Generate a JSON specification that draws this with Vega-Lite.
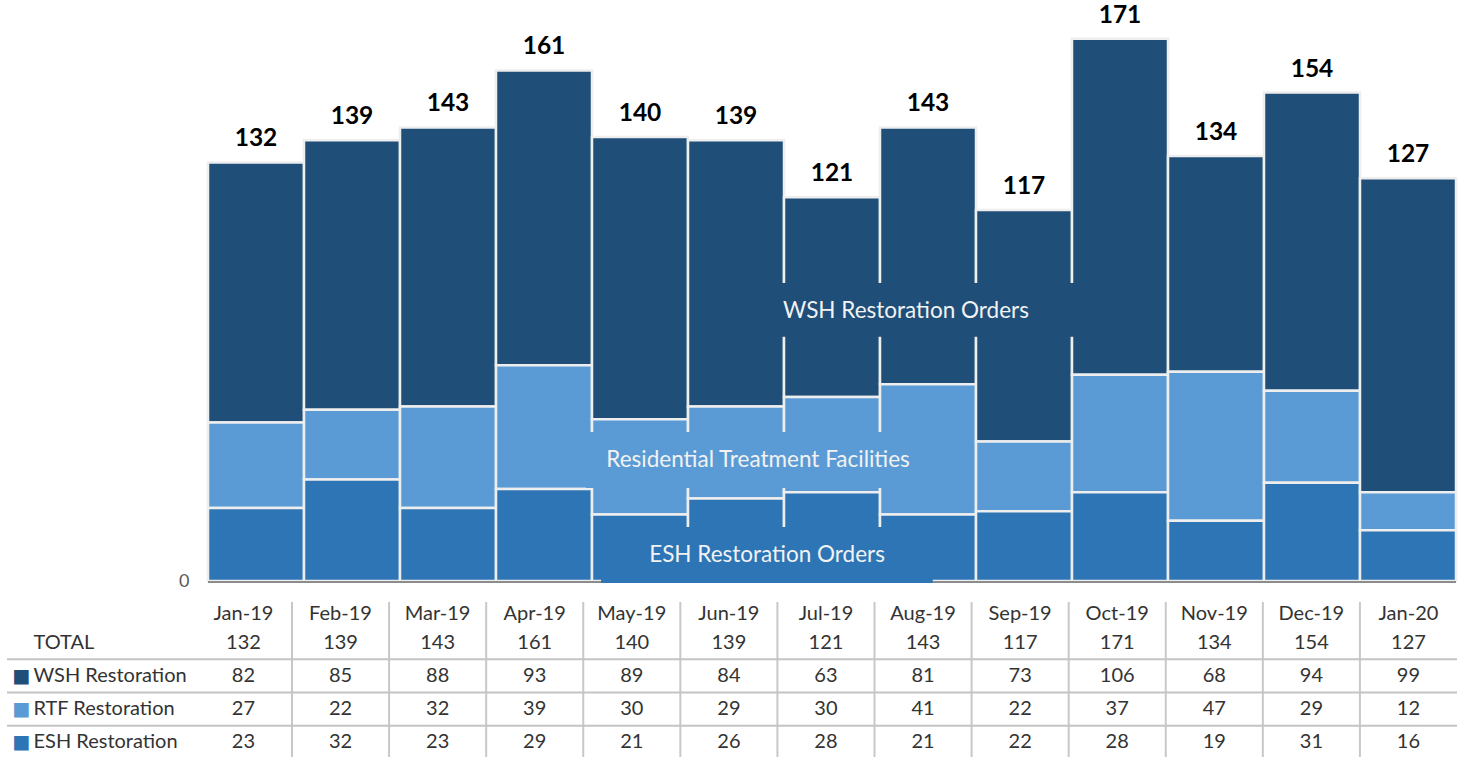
{
  "$schema": "https://vega.github.io/schema/vega-lite/v6.json",
  "padding": {"left": 6, "top": 0, "right": 0, "bottom": 0},
  "background": "white",
  "spacing": 21,
  "bounds": "flush",
  "config": {"view": {"stroke": null}, "font": "Lato"},
  "datasets": {
    "monthly": [
      {"month": "Jan-19", "TOTAL": 132, "WSH Restoration": 82, "RTF Restoration": 27, "ESH Restoration": 23},
      {"month": "Feb-19", "TOTAL": 139, "WSH Restoration": 85, "RTF Restoration": 22, "ESH Restoration": 32},
      {"month": "Mar-19", "TOTAL": 143, "WSH Restoration": 88, "RTF Restoration": 32, "ESH Restoration": 23},
      {"month": "Apr-19", "TOTAL": 161, "WSH Restoration": 93, "RTF Restoration": 39, "ESH Restoration": 29},
      {"month": "May-19", "TOTAL": 140, "WSH Restoration": 89, "RTF Restoration": 30, "ESH Restoration": 21},
      {"month": "Jun-19", "TOTAL": 139, "WSH Restoration": 84, "RTF Restoration": 29, "ESH Restoration": 26},
      {"month": "Jul-19", "TOTAL": 121, "WSH Restoration": 63, "RTF Restoration": 30, "ESH Restoration": 28},
      {"month": "Aug-19", "TOTAL": 143, "WSH Restoration": 81, "RTF Restoration": 41, "ESH Restoration": 21},
      {"month": "Sep-19", "TOTAL": 117, "WSH Restoration": 73, "RTF Restoration": 22, "ESH Restoration": 22},
      {"month": "Oct-19", "TOTAL": 171, "WSH Restoration": 106, "RTF Restoration": 37, "ESH Restoration": 28},
      {"month": "Nov-19", "TOTAL": 134, "WSH Restoration": 68, "RTF Restoration": 47, "ESH Restoration": 19},
      {"month": "Dec-19", "TOTAL": 154, "WSH Restoration": 94, "RTF Restoration": 29, "ESH Restoration": 31},
      {"month": "Jan-20", "TOTAL": 127, "WSH Restoration": 99, "RTF Restoration": 12, "ESH Restoration": 16}
    ],
    "callouts": [
      {"label": "WSH Restoration Orders", "series": "WSH Restoration", "from": "Jun-19", "to": "Oct-19", "at": "Aug-19", "low": 77, "high": 94, "mid": 85.2},
      {"label": "Residential Treatment Facilities", "series": "RTF Restoration", "from": "Apr-19", "to": "Aug-19", "at": "Jun-19", "low": 29.3, "high": 47, "mid": 38.2},
      {"label": "ESH Restoration Orders", "series": "ESH Restoration", "from": "May-19", "to": "Aug-19", "at": "Jun-19", "low": -0.6, "high": 17, "mid": 8.3}
    ]
  },
  "resolve": {"scale": {"x": "independent", "y": "independent"}},
  "vconcat": [
    {
      "width": 1449,
      "height": 581,
      "layer": [
        {
          "data": {"name": "monthly"},
          "transform": [{"fold": ["WSH Restoration", "RTF Restoration", "ESH Restoration"], "as": ["series", "value"]}],
          "mark": {"type": "bar", "stroke": "#eeeeee", "strokeWidth": 2.5},
          "encoding": {
            "x": {"field": "month", "type": "ordinal", "axis": null,
                  "scale": {"domain": ["Jan-19","Feb-19","Mar-19","Apr-19","May-19","Jun-19","Jul-19","Aug-19","Sep-19","Oct-19","Nov-19","Dec-19","Jan-20"], "range": [201, 1449], "paddingInner": 0, "paddingOuter": 0}},
            "y": {"field": "value", "type": "quantitative", "stack": "zero",
                  "scale": {"domain": [0, 183.2], "nice": false, "zero": true},
                  "axis": {"values": [0], "orient": "left", "offset": -201, "labelPadding": 19, "ticks": false, "tickSize": 0, "domain": false, "grid": false, "title": null, "labelFont": "Lato", "labelFontSize": 18, "labelColor": "#595959"}},
            "color": {"field": "series", "type": "nominal", "legend": null,
                      "scale": {"domain": ["WSH Restoration", "RTF Restoration", "ESH Restoration"], "range": ["#1F4E79", "#5B9BD5", "#2E75B6"]}},
            "order": {"field": "series", "type": "nominal", "sort": "ascending"}
          }
        },
        {
          "data": {"values": [{}]},
          "mark": {"type": "rule", "color": "#8c8c8c", "strokeWidth": 2, "yOffset": 1},
          "encoding": {
            "x": {"datum": "Jan-19", "type": "ordinal", "bandPosition": 0, "axis": null},
            "x2": {"datum": "Jan-20", "bandPosition": 1},
            "y": {"datum": 0, "type": "quantitative", "title": null}
          }
        },
        {
          "data": {"name": "callouts"},
          "transform": [{"filter": "datum.series == 'WSH Restoration'"}],
          "mark": {"type": "rect"},
          "encoding": {
            "x": {"field": "from", "type": "ordinal", "bandPosition": 0.479, "axis": null},
            "x2": {"field": "to", "bandPosition": 0.0625},
            "y": {"field": "low", "type": "quantitative", "title": null},
            "y2": {"field": "high"},
            "color": {"field": "series", "type": "nominal", "legend": null}
          }
        },
        {
          "data": {"name": "callouts"},
          "transform": [{"filter": "datum.series == 'RTF Restoration'"}],
          "mark": {"type": "rect"},
          "encoding": {
            "x": {"field": "from", "type": "ordinal", "bandPosition": 0.9375, "axis": null},
            "x2": {"field": "to", "bandPosition": 0.52},
            "y": {"field": "low", "type": "quantitative", "title": null},
            "y2": {"field": "high"},
            "color": {"field": "series", "type": "nominal", "legend": null}
          }
        },
        {
          "data": {"name": "callouts"},
          "transform": [{"filter": "datum.series == 'ESH Restoration'"}],
          "mark": {"type": "rect"},
          "encoding": {
            "x": {"field": "from", "type": "ordinal", "bandPosition": 0.094, "axis": null},
            "x2": {"field": "to", "bandPosition": 0.55},
            "y": {"field": "low", "type": "quantitative", "title": null},
            "y2": {"field": "high"},
            "color": {"field": "series", "type": "nominal", "legend": null}
          }
        },
        {
          "data": {"name": "callouts"},
          "transform": [{"filter": "datum.series == 'WSH Restoration'"}],
          "mark": {"type": "text", "font": "Lato", "fontSize": 22.5, "color": "#f2f2f2", "baseline": "middle"},
          "encoding": {
            "x": {"field": "at", "type": "ordinal", "bandPosition": 0.27, "axis": null},
            "y": {"field": "mid", "type": "quantitative", "title": null},
            "text": {"field": "label"}
          }
        },
        {
          "data": {"name": "callouts"},
          "transform": [{"filter": "datum.series == 'RTF Restoration'"}],
          "mark": {"type": "text", "font": "Lato", "fontSize": 22.5, "color": "#f2f2f2", "baseline": "middle"},
          "encoding": {
            "x": {"field": "at", "type": "ordinal", "bandPosition": 0.73, "axis": null},
            "y": {"field": "mid", "type": "quantitative", "title": null},
            "text": {"field": "label"}
          }
        },
        {
          "data": {"name": "callouts"},
          "transform": [{"filter": "datum.series == 'ESH Restoration'"}],
          "mark": {"type": "text", "font": "Lato", "fontSize": 22.5, "color": "#f2f2f2", "baseline": "middle"},
          "encoding": {
            "x": {"field": "at", "type": "ordinal", "bandPosition": 0.823, "axis": null},
            "y": {"field": "mid", "type": "quantitative", "title": null},
            "text": {"field": "label"}
          }
        },
        {
          "data": {"name": "monthly"},
          "mark": {"type": "text", "font": "Lato", "fontWeight": "bold", "fontSize": 24.5, "baseline": "alphabetic", "dy": -16, "color": "#000000"},
          "encoding": {
            "x": {"field": "month", "type": "ordinal", "axis": null},
            "y": {"field": "TOTAL", "type": "quantitative", "title": null},
            "text": {"field": "TOTAL", "type": "quantitative"}
          }
        }
      ]
    },
    {
      "width": 1450,
      "height": 157,
      "resolve": {"axis": {"y": "independent"}},
      "layer": [
        {
          "data": {"name": "monthly"},
          "transform": [{"filter": "datum.month != 'Jan-19'"}],
          "mark": {"type": "rule", "color": "#c8c8c8", "strokeWidth": 2},
          "encoding": {
            "x": {"field": "month", "type": "ordinal", "bandPosition": 0,
                  "scale": {"domain": ["Jan-19","Feb-19","Mar-19","Apr-19","May-19","Jun-19","Jul-19","Aug-19","Sep-19","Oct-19","Nov-19","Dec-19","Jan-20"], "paddingInner": 0, "paddingOuter": 0.9678, "align": 1},
                  "axis": {"orient": "top", "offset": -11, "labelPadding": 0, "ticks": false, "tickSize": 0, "domain": false, "grid": false, "title": null, "labelFont": "Lato", "labelFontSize": 20, "labelColor": "#333333", "labelBaseline": "middle", "labelAngle": 0, "bandPosition": 0.5}}
          }
        },
        {
          "data": {"values": [{"row": "TOTAL"}, {"row": "WSH Restoration"}, {"row": "RTF Restoration"}]},
          "mark": {"type": "rule", "color": "#c4c4c4", "strokeWidth": 2},
          "encoding": {
            "y": {"field": "row", "type": "ordinal", "bandPosition": 1,
                  "scale": {"domain": ["TOTAL", "WSH Restoration", "RTF Restoration", "ESH Restoration"], "paddingInner": 0, "paddingOuter": 0.361, "align": 1},
                  "axis": {"orient": "left", "offset": -5, "labelAlign": "left", "labelPadding": 0, "ticks": false, "tickSize": 0, "domain": false, "grid": false, "title": null, "bandPosition": 0.5,
                           "labelExpr": "datum.value == 'TOTAL' ? '' : '■'", "labelFont": "DejaVu Sans", "labelFontSize": 19, "labelBaseline": "middle",
                           "labelColor": {"condition": [{"test": "datum.value == 'WSH Restoration'", "value": "#1F4E79"}, {"test": "datum.value == 'RTF Restoration'", "value": "#5B9BD5"}], "value": "#2E75B6"}}}
          }
        },
        {
          "data": {"name": "monthly"},
          "transform": [{"fold": ["TOTAL", "WSH Restoration", "RTF Restoration", "ESH Restoration"], "as": ["row", "value"]}],
          "mark": {"type": "text", "font": "Lato", "fontSize": 20, "color": "#333333", "baseline": "middle"},
          "encoding": {
            "x": {"field": "month", "type": "ordinal",
                  "scale": {"domain": ["Jan-19","Feb-19","Mar-19","Apr-19","May-19","Jun-19","Jul-19","Aug-19","Sep-19","Oct-19","Nov-19","Dec-19","Jan-20"], "paddingInner": 0, "paddingOuter": 0.9678, "align": 1},
                  "axis": {"orient": "top", "offset": -11, "labelPadding": 0, "ticks": false, "tickSize": 0, "domain": false, "grid": false, "title": null, "labelFont": "Lato", "labelFontSize": 20, "labelColor": "#333333", "labelBaseline": "middle", "labelAngle": 0, "bandPosition": 0.5}},
            "y": {"field": "row", "type": "ordinal",
                  "scale": {"domain": ["TOTAL", "WSH Restoration", "RTF Restoration", "ESH Restoration"], "paddingInner": 0, "paddingOuter": 0.361, "align": 1},
                  "axis": {"orient": "left", "offset": -26, "labelAlign": "left", "labelPadding": 0, "ticks": false, "tickSize": 0, "domain": false, "grid": false, "title": null, "bandPosition": 0.5,
                           "labelFont": "Lato", "labelFontSize": 20, "labelColor": "#333333", "labelBaseline": "middle"}},
            "text": {"field": "value", "type": "quantitative"}
          }
        }
      ]
    }
  ]
}
